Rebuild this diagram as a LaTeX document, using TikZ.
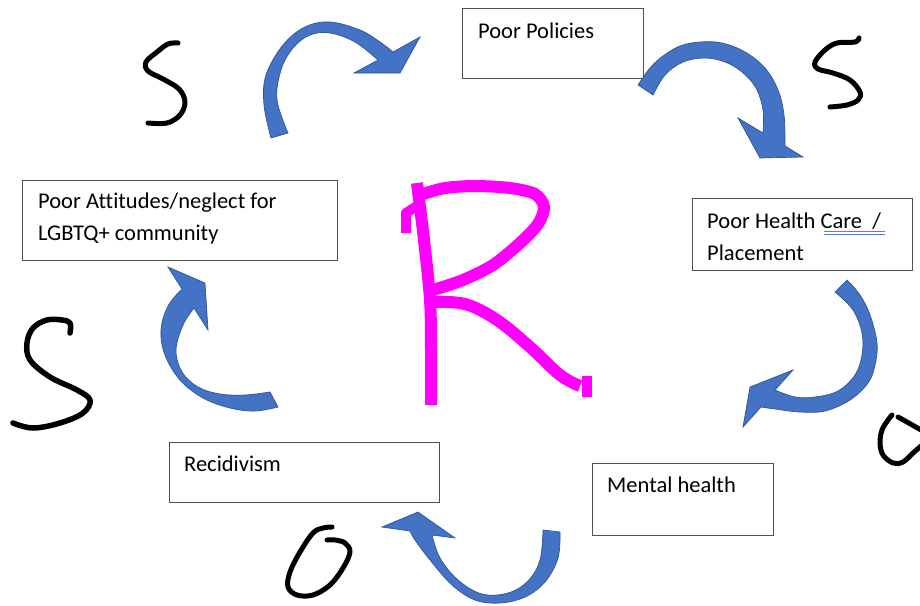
\documentclass[tikz,border=0pt]{standalone}
\usepackage{fontspec}
\setmainfont{Carlito}[Ligatures=NoCommon]
\definecolor{boxgray}{HTML}{505050}
\definecolor{arrfill}{HTML}{4472C4}
\definecolor{arredge}{HTML}{2F5597}
\definecolor{uline}{HTML}{5A7FD8}
\definecolor{rpink}{HTML}{FF00FF}
\tikzset{
  box/.style={draw=boxgray, line width=1.2pt, anchor=north west, inner sep=0pt},
  lbl/.style={anchor=base west, inner sep=0pt, font=\fontsize{22.5}{27}\selectfont},
  barrow/.style={fill=arrfill, draw=arredge, line width=0.7pt, line join=miter},
  hand/.style={draw=black, line width=5pt, line cap=round, line join=round},
  rpen/.style={draw=rpink, line width=12pt, line cap=butt, line join=round},
}
\begin{document}
\begin{tikzpicture}[x=1pt,y=-1pt]
\useasboundingbox[fill=white] (0,0) rectangle (920,605);

% boxes
\node[box, minimum width=181pt, minimum height=70pt] (pol) at (462,8) {};
\node[box, minimum width=220pt, minimum height=72pt] (hc) at (692,198) {};
\node[box, minimum width=181pt, minimum height=72pt] (mh) at (592,463) {};
\node[box, minimum width=270pt, minimum height=60pt] (rec) at (169,442) {};
\node[box, minimum width=315pt, minimum height=80pt] (att) at (22,180) {};

% labels
\node[lbl] (tpol) at (478,38) {Poor Policies};
\node[lbl] (thc1) at (707,228) {Poor Health Care\ \ /};
\node[lbl] (thc2) at (707,260) {Placement};
\node[lbl] (tmh) at (607,492) {Mental health};
\node[lbl] (trec) at (184,471) {Recidivism};
\node[lbl] (tatt1) at (38,208) {Poor Attitudes/neglect for};
\node[lbl] (tatt2) at (38,240) {LGBTQ+ community};
\draw[uline, line width=0.9pt] (824,231.5) -- (885,231.5) (824,234) -- (885,234);

% curved block arrows
\path[barrow] plot[smooth, tension=0.6] coordinates {(271,138) (264,105) (266,75) (283,45) (305,27) (330,22) (360,30) (380,42) (393,52)}
  -- (420,37) -- (400,73) -- (354,73) -- (378,60)
  -- plot[smooth, tension=0.6] coordinates {(378,60) (355,42) (330,33) (310,35) (293,48) (281,70) (277,100) (288,133)} -- cycle;

\path[barrow] plot[smooth, tension=0.6] coordinates {(638,85) (650,68) (663,56) (680,46) (700,42) (722,43) (745,52) (765,68) (778,90) (784,115) (785,146)}
  -- (803,157) -- (760,158) -- (738,118) -- (763,133)
  -- plot[smooth, tension=0.6] coordinates {(763,133) (763,110) (756,88) (742,72) (725,62) (705,58) (683,62) (665,75) (653,95)} -- cycle;

\path[barrow] plot[smooth, tension=0.6] coordinates {(847,280) (860,295) (870,315) (877,343) (875,365) (868,383) (850,400) (825,411) (800,412) (775,409) (761,407)}
  -- (743,427) -- (750,387) -- (793,370) -- (775,390)
  -- plot[smooth, tension=0.6] coordinates {(775,390) (795,397) (815,397) (838,391) (855,375) (862,355) (862,333) (853,310) (835,292)} -- cycle;

\path[barrow] plot[smooth, tension=0.6] coordinates {(560,532) (558,558) (545,582) (525,597) (500,603) (475,600) (452,585) (430,560) (415,540) (410,531)}
  -- (382,527) -- (418,512) -- (455,538) -- (432,535)
  -- plot[smooth, tension=0.6] coordinates {(432,535) (440,558) (458,580) (482,594) (508,593) (528,581) (540,560) (543,530)} -- cycle;

\path[barrow] plot[smooth, tension=0.6] coordinates {(278,407) (255,411) (230,408) (203,398) (180,380) (165,355) (161,330) (168,306) (182,289)}
  -- (168,267) -- (205,283) -- (208,330) -- (194,308)
  -- plot[smooth, tension=0.6] coordinates {(194,308) (183,325) (176,350) (182,372) (198,387) (220,394) (245,395) (270,392)} -- cycle;

% handwritten letters
\draw[hand] plot[smooth, tension=0.6] coordinates {(178,43) (168,44) (157,52) (146,62) (148,71) (163,79) (179,89) (185,102) (180,115) (167,123) (148,123)};
\draw[hand] plot[smooth, tension=0.6] coordinates {(859,38) (855,42) (837,43) (825,50) (815,62) (818,69) (833,73) (850,80) (860,92) (858,100) (847,105) (830,107)};
\draw[hand, line width=5.5pt] plot[smooth, tension=0.6] coordinates {(70,333) (70,323) (62,320) (47,320) (33,328) (27,343) (30,360) (50,377) (77,390) (90,400) (83,413) (60,423) (33,428) (13,423)};
\draw[hand] plot[smooth, tension=0.6] coordinates {(892,415) (888,420) (882,430) (880,443) (883,455) (893,463) (903,462) (913,453) (921,446)};
\draw[hand] plot[smooth, tension=0.6] coordinates {(898,417) (907,422) (921,430)};
\draw[hand] plot[smooth, tension=0.6] coordinates {(332,527) (323,528) (313,533) (300,552) (290,572) (288,587) (297,595) (313,595) (330,585) (343,568) (350,552) (345,543) (335,540) (327,540)};

% big R
\draw[rpen] plot[smooth, tension=0.6] coordinates {(417,183) (424,240) (430,300) (431,350) (431,405)};
\draw[rpen, line width=10pt] (406,233) -- (406,213) -- (417,206);
\draw[rpen] plot[smooth, tension=0.5] coordinates {(423,194) (445,188) (475,186) (510,188) (535,194) (544,207) (538,224) (520,243) (493,265) (463,280) (433,290)};
\draw[rpen] plot[smooth, tension=0.6] coordinates {(432,302) (465,304) (497,320) (530,347) (560,375) (580,386)};
\draw[rpen, line width=10pt] (587,376) -- (587,397);
\end{tikzpicture}
\end{document}
